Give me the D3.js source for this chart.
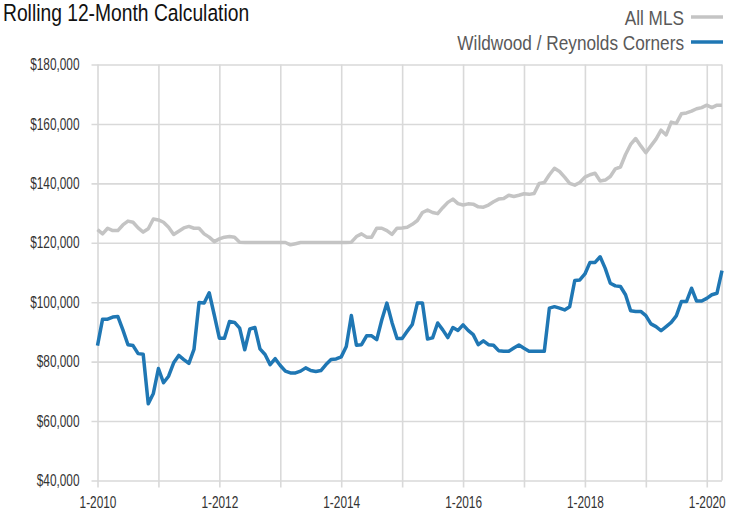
<!DOCTYPE html>
<html>
<head>
<meta charset="utf-8">
<script src="https://cdn.jsdelivr.net/npm/d3@7"></script>
<style>
  html, body { margin: 0; padding: 0; background: #fff; }
  svg { display: block; }
  text { font-family: "Liberation Sans", Arial, sans-serif; }
</style>
</head>
<body>
<svg id="chart" width="745" height="514"></svg>
<script>
// ---- data ----
const startYear = 2010;
const monthLabels = d3.range(124).map(i => `${(i % 12) + 1}-${startYear + Math.floor(i / 12)}`);

const allMLS = [
  124400, 123000, 124900, 124100, 124100, 126000, 127300, 126900, 125000, 123600,
  124700, 128000, 127700, 126900, 125200, 122800, 123900, 125000, 125500, 124900,
  124900, 123000, 121900, 120400, 121300, 121900, 122100, 121900, 120200, 120100,
  120100, 120100, 120100, 120100, 120100, 120100, 120100, 120100, 119300, 119700,
  120100, 120100, 120100, 120100, 120100, 120100, 120100, 120100, 120100, 120100,
  120200, 122100, 123000, 121900, 121900, 124900, 124900, 124100, 122800, 124900,
  125000, 125200, 126200, 127500, 130200, 131000, 130200, 129800, 131800, 133600,
  134700, 133200, 132700, 133100, 133000, 132100, 132000, 132700, 133800, 134700,
  134900, 136000, 135600, 136000, 136500, 136300, 136600, 140000, 140300, 142900,
  145100, 144000, 142100, 140000, 139400, 140300, 142100, 142900, 143400, 140800,
  141100, 142300, 144900, 145500, 149700, 153100, 155100, 152600, 150300, 152600,
  154900, 157900, 156300, 160600, 160200, 163400, 163700, 164300, 165100, 165500,
  166300, 165500, 166300, 166300
];

const wildwood = [
  85400, 94300, 94300, 95000, 95200, 90700, 85700, 85400, 82700, 82500,
  65800, 69300, 77700, 72900, 75100, 79600, 82100, 80700, 79400, 84100,
  99900, 99700, 103200, 95700, 87900, 87900, 93500, 93200, 91300, 84000,
  91000, 91500, 84300, 82400, 79000, 81000, 78700, 76800, 76200, 76200,
  76800, 77900, 77000, 76700, 77000, 79000, 80700, 80900, 81600, 85100,
  95500, 85500, 85700, 88700, 88700, 87400, 94100, 99700, 93200, 87800,
  87800, 90200, 92500, 99700, 99700, 87600, 88000, 93000, 90700, 88100,
  91500, 90500, 92400, 90500, 89100, 85700, 87000, 85700, 85500, 83700,
  83500, 83500, 84600, 85600, 84500, 83500, 83500, 83500, 83500, 98000,
  98500, 98000, 97400, 98500, 107300, 107500, 109500, 113400, 113400, 115300,
  111400, 106400, 105500, 105300, 102500, 97100, 96900, 96900, 95500, 92700,
  91800, 90400, 91800, 93200, 95400, 100200, 100200, 104700, 100400, 100400,
  101300, 102500, 103000, 110600
];

const yTicks = [40000, 60000, 80000, 100000, 120000, 140000, 160000, 180000];
const xGridLabels = monthLabels.filter(l => l.startsWith("1-"));
const xTickLabels = ["1-2010", "1-2012", "1-2014", "1-2016", "1-2018", "1-2020"];
const seriesNames = ["All MLS", "Wildwood / Reynolds Corners"];
const seriesColors = ["#c4c4c4", "#1f77b4"];

// ---- layout ----
const svg = d3.select("#chart");
const pL = 97.5, pR = 722, pT = 64.5, pB = 480.5;
const sx = 0.82;   // condensed look for title/legend
const sxT = 0.74;  // condensed look for tick labels
const gridColor = "#d9d9d9";

const x = d3.scalePoint().domain(monthLabels).range([pL, pR]);
const y = d3.scaleLinear().domain([40000, 180000]).range([pB, pT]);

// horizontal grid + y labels
const yAxis = d3.axisLeft(y).tickValues(yTicks)
  .tickSize(-(pR - pL) - 6).tickPadding(12)
  .tickFormat(d => "$" + d3.format(",")(d));
const gy = svg.append("g").attr("transform", `translate(${pL - 6},0)`).call(yAxis);
gy.select(".domain").remove();
gy.selectAll(".tick line").attr("stroke", gridColor).attr("stroke-width", 1.6);
gy.selectAll(".tick text").attr("fill", "#333").style("font-size", "16px")
  .attr("x", -12 / sxT).attr("transform", `scale(${sxT},1)`);

// vertical grid + x labels
const xAxis = d3.axisBottom(x).tickValues(xGridLabels)
  .tickSize(-(pB - pT) - 7).tickPadding(12)
  .tickFormat(d => xTickLabels.includes(d) ? d : "");
const gx = svg.append("g").attr("transform", `translate(0,${pB + 7})`).call(xAxis);
gx.select(".domain").remove();
gx.selectAll(".tick line").attr("stroke", gridColor).attr("stroke-width", 1.6);
gx.selectAll(".tick text").attr("fill", "#333").style("font-size", "16px")
  .attr("y", 9.5).attr("transform", `scale(${sxT},1)`);

// right border
svg.append("line").attr("x1", pR).attr("x2", pR).attr("y1", pT).attr("y2", pB)
  .attr("stroke", gridColor).attr("stroke-width", 1.6);

// lines
const line = d3.line().x((d, i) => x(monthLabels[i])).y(d => y(d));
[allMLS, wildwood].forEach((s, k) => {
  svg.append("path").datum(s).attr("d", line)
    .attr("fill", "none").attr("stroke", seriesColors[k])
    .attr("stroke-width", 3.5).attr("stroke-linejoin", "round");
});

// title
svg.append("text").attr("transform", `translate(3,20.5) scale(${sx},1)`).attr("fill", "#111")
  .style("font-size", "23.5px").text("Rolling 12-Month Calculation");

// legend
const legY = [17, 42];
seriesNames.forEach((n, k) => {
  svg.append("text").attr("transform", `translate(684,${legY[k] + 7.5}) scale(${sx},1)`)
    .attr("text-anchor", "end")
    .attr("fill", "#595959").style("font-size", "21px").text(n);
  svg.append("line").attr("x1", 691).attr("x2", 723).attr("y1", legY[k]).attr("y2", legY[k])
    .attr("stroke", seriesColors[k]).attr("stroke-width", 3.5);
});
</script>
</body>
</html>
